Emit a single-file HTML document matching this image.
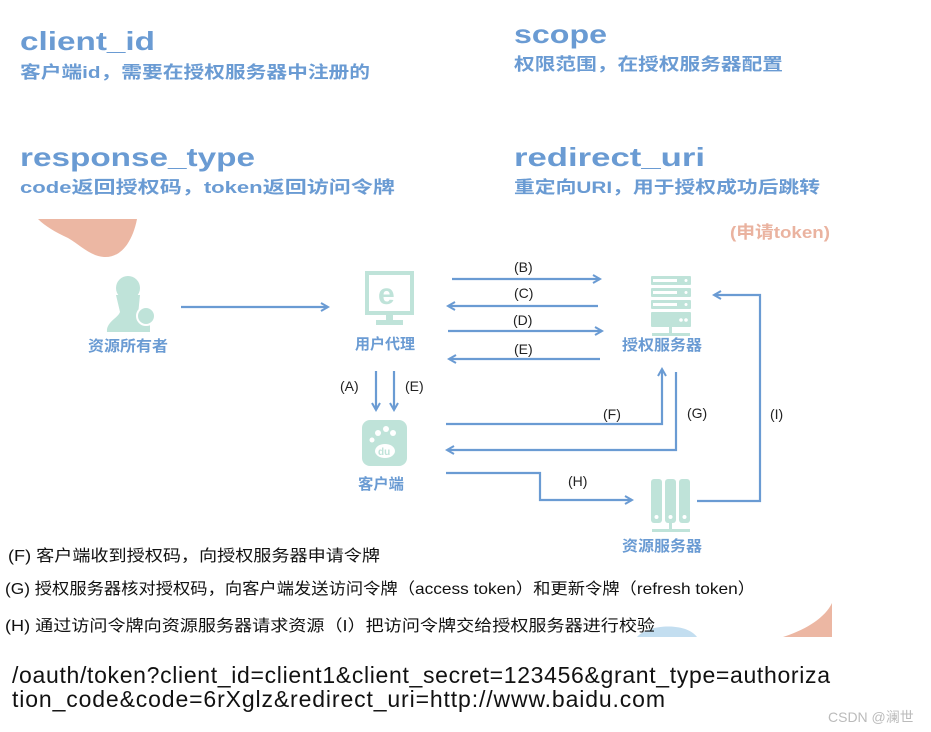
<!DOCTYPE html>
<html><head><meta charset="utf-8"><style>
html,body{margin:0;padding:0;background:#fff;}
svg{display:block;}
</style></head><body>
<svg width="931" height="732" viewBox="0 0 931 732" xmlns="http://www.w3.org/2000/svg">
<defs>
<marker id="ah" markerWidth="10" markerHeight="10" refX="8" refY="5" orient="auto" markerUnits="userSpaceOnUse">
<path d="M1,1 L8,5 L1,9" fill="none" stroke="#6a9bd3" stroke-width="2"/>
</marker>
</defs>
<g font-family="'Liberation Sans','Noto Sans CJK SC',sans-serif" fill="#6a9bd3" font-weight="bold">
<text x="20" y="50" font-size="26" textLength="135" lengthAdjust="spacingAndGlyphs">client_id</text>
<text x="20" y="78" font-size="17" textLength="350" lengthAdjust="spacingAndGlyphs">客户端id，需要在授权服务器中注册的</text>
<text x="514" y="43" font-size="26" textLength="93" lengthAdjust="spacingAndGlyphs">scope</text>
<text x="514" y="70" font-size="17" textLength="269" lengthAdjust="spacingAndGlyphs">权限范围，在授权服务器配置</text>
<text x="20" y="166" font-size="26" textLength="235" lengthAdjust="spacingAndGlyphs">response_type</text>
<text x="20" y="193" font-size="17" textLength="375" lengthAdjust="spacingAndGlyphs">code返回授权码，token返回访问令牌</text>
<text x="514" y="166" font-size="26" textLength="191" lengthAdjust="spacingAndGlyphs">redirect_uri</text>
<text x="514" y="193" font-size="17" textLength="306" lengthAdjust="spacingAndGlyphs">重定向URI，用于授权成功后跳转</text>
</g>
<!-- pink blob -->
<path d="M38,219 L137,219 C133,240 122,258 104,257 C90,256 80,245 68,238 C55,232 45,226 38,219 Z" fill="#ecb7a3"/>
<text x="730" y="238" font-family="'Liberation Sans','Noto Sans CJK SC',sans-serif" font-size="17" font-weight="bold" fill="#eab3a0" textLength="100" lengthAdjust="spacingAndGlyphs">(申请token)</text>

<!-- icons -->
<g fill="#bfe3d9">
 <!-- person -->
 <circle cx="128" cy="288" r="12"/>
 <path d="M116,295 L140,295 L138,315 L150,322 L150,332 L107,332 C106,322 118,318 120,312 Z"/>
 <circle cx="146" cy="316" r="9" fill="#bfe3d9" stroke="#fff" stroke-width="2"/>
 <!-- monitor -->
 <rect x="367" y="273" width="45" height="40" fill="none" stroke="#bfe3d9" stroke-width="4"/>
 <text x="378" y="304" font-family="'Liberation Sans',sans-serif" font-size="30" font-weight="bold" fill="#bfe3d9">e</text>
 <rect x="386" y="313" width="7" height="9"/>
 <rect x="376" y="320" width="27" height="5"/>
 <!-- auth server -->
 <rect x="651" y="276" width="40" height="9" rx="1"/>
 <rect x="651" y="288" width="40" height="9" rx="1"/>
 <rect x="651" y="300" width="40" height="9" rx="1"/>
 <rect x="651" y="312" width="40" height="15" rx="1"/>
 <rect x="669" y="327" width="3" height="6"/>
 <rect x="652" y="333" width="38" height="3"/>
 <!-- baidu -->
 <rect x="362" y="420" width="45" height="46" rx="8"/>
 <!-- resource server -->
 <rect x="651" y="479" width="11" height="44" rx="3"/>
 <rect x="665" y="479" width="11" height="44" rx="3"/>
 <rect x="679" y="479" width="11" height="44" rx="3"/>
 <rect x="669" y="523" width="3" height="6"/>
 <rect x="652" y="529" width="38" height="3"/>
</g>
<g fill="#fff">
 <rect x="653" y="279" width="24" height="3"/><rect x="653" y="291" width="24" height="3"/><rect x="653" y="303" width="24" height="3"/>
 <circle cx="686" cy="280.5" r="1.5"/><circle cx="686" cy="292.5" r="1.5"/><circle cx="686" cy="304.5" r="1.5"/>
 <circle cx="681" cy="320" r="1.8"/><circle cx="686" cy="320" r="1.8"/>
 <circle cx="656.5" cy="517" r="2"/><circle cx="670.5" cy="517" r="2"/><circle cx="684.5" cy="517" r="2"/>
 <circle cx="378" cy="433" r="3"/><circle cx="386" cy="429" r="3"/><circle cx="393" cy="433" r="3"/><circle cx="372" cy="440" r="2.5"/>
 <ellipse cx="385" cy="451" rx="10" ry="7"/>
</g>
<text x="378" y="455" font-family="'Liberation Sans',sans-serif" font-size="10" font-weight="bold" fill="#bfe3d9">du</text>

<g font-family="'Liberation Sans','Noto Sans CJK SC',sans-serif" font-size="15" font-weight="bold" fill="#6a9bd3">
<text x="88" y="351" textLength="80" lengthAdjust="spacingAndGlyphs">资源所有者</text>
<text x="355" y="349" textLength="60" lengthAdjust="spacingAndGlyphs">用户代理</text>
<text x="622" y="350" textLength="80" lengthAdjust="spacingAndGlyphs">授权服务器</text>
<text x="358" y="489" textLength="46" lengthAdjust="spacingAndGlyphs">客户端</text>
<text x="622" y="551" textLength="80" lengthAdjust="spacingAndGlyphs">资源服务器</text>
</g>

<!-- connectors -->
<g fill="none" stroke="#6a9bd3" stroke-width="2.2" marker-end="url(#ah)">
<line x1="181" y1="307" x2="328" y2="307"/>
<line x1="452" y1="279" x2="600" y2="279"/>
<line x1="598" y1="306" x2="448" y2="306"/>
<line x1="448" y1="331" x2="602" y2="331"/>
<line x1="600" y1="359" x2="449" y2="359"/>
<line x1="376" y1="371" x2="376" y2="410"/>
<line x1="394" y1="371" x2="394" y2="410"/>
<polyline points="446,424 662,424 662,369"/>
<polyline points="676,372 676,450 447,450"/>
<polyline points="446,473 540,473 540,500 632,500"/>
<polyline points="697,501 760,501 760,295 714,295"/>
</g>
<g font-family="'Liberation Sans',sans-serif" font-size="14" fill="#222">
<text x="514" y="272">(B)</text>
<text x="514" y="298">(C)</text>
<text x="513" y="325">(D)</text>
<text x="514" y="354">(E)</text>
<text x="340" y="391">(A)</text>
<text x="405" y="391">(E)</text>
<text x="603" y="419">(F)</text>
<text x="687" y="418">(G)</text>
<text x="568" y="486">(H)</text>
<text x="770" y="419">(I)</text>
</g>

<!-- bottom shapes -->
<path d="M637,637 C648,624 686,622 697,637 Z" fill="#c3def0"/>
<path d="M783,637 C805,630 825,618 832,603 L832,637 Z" fill="#ecb7a3"/>

<g font-family="'Liberation Sans','Noto Sans CJK SC',sans-serif" font-size="16" fill="#111">
<text x="8" y="561" textLength="372" lengthAdjust="spacingAndGlyphs">(F) 客户端收到授权码，向授权服务器申请令牌</text>
<text x="5" y="594" textLength="750" lengthAdjust="spacingAndGlyphs">(G) 授权服务器核对授权码，向客户端发送访问令牌（access token）和更新令牌（refresh token）</text>
<text x="5" y="631" textLength="650" lengthAdjust="spacingAndGlyphs">(H) 通过访问令牌向资源服务器请求资源（I）把访问令牌交给授权服务器进行校验</text>
</g>
<g font-family="'Liberation Sans',sans-serif" font-size="23" fill="#111">
<text x="12" y="683" textLength="818" lengthAdjust="spacing">/oauth/token?client_id=client1&amp;client_secret=123456&amp;grant_type=authoriza</text>
<text x="12" y="707" textLength="653" lengthAdjust="spacing">tion_code&amp;code=6rXglz&amp;redirect_uri=http://www.baidu.com</text>
</g>
<text x="828" y="722" font-family="'Liberation Sans','Noto Sans CJK SC',sans-serif" font-size="14" fill="#bbb">CSDN @澜世</text>
</svg>
</body></html>
